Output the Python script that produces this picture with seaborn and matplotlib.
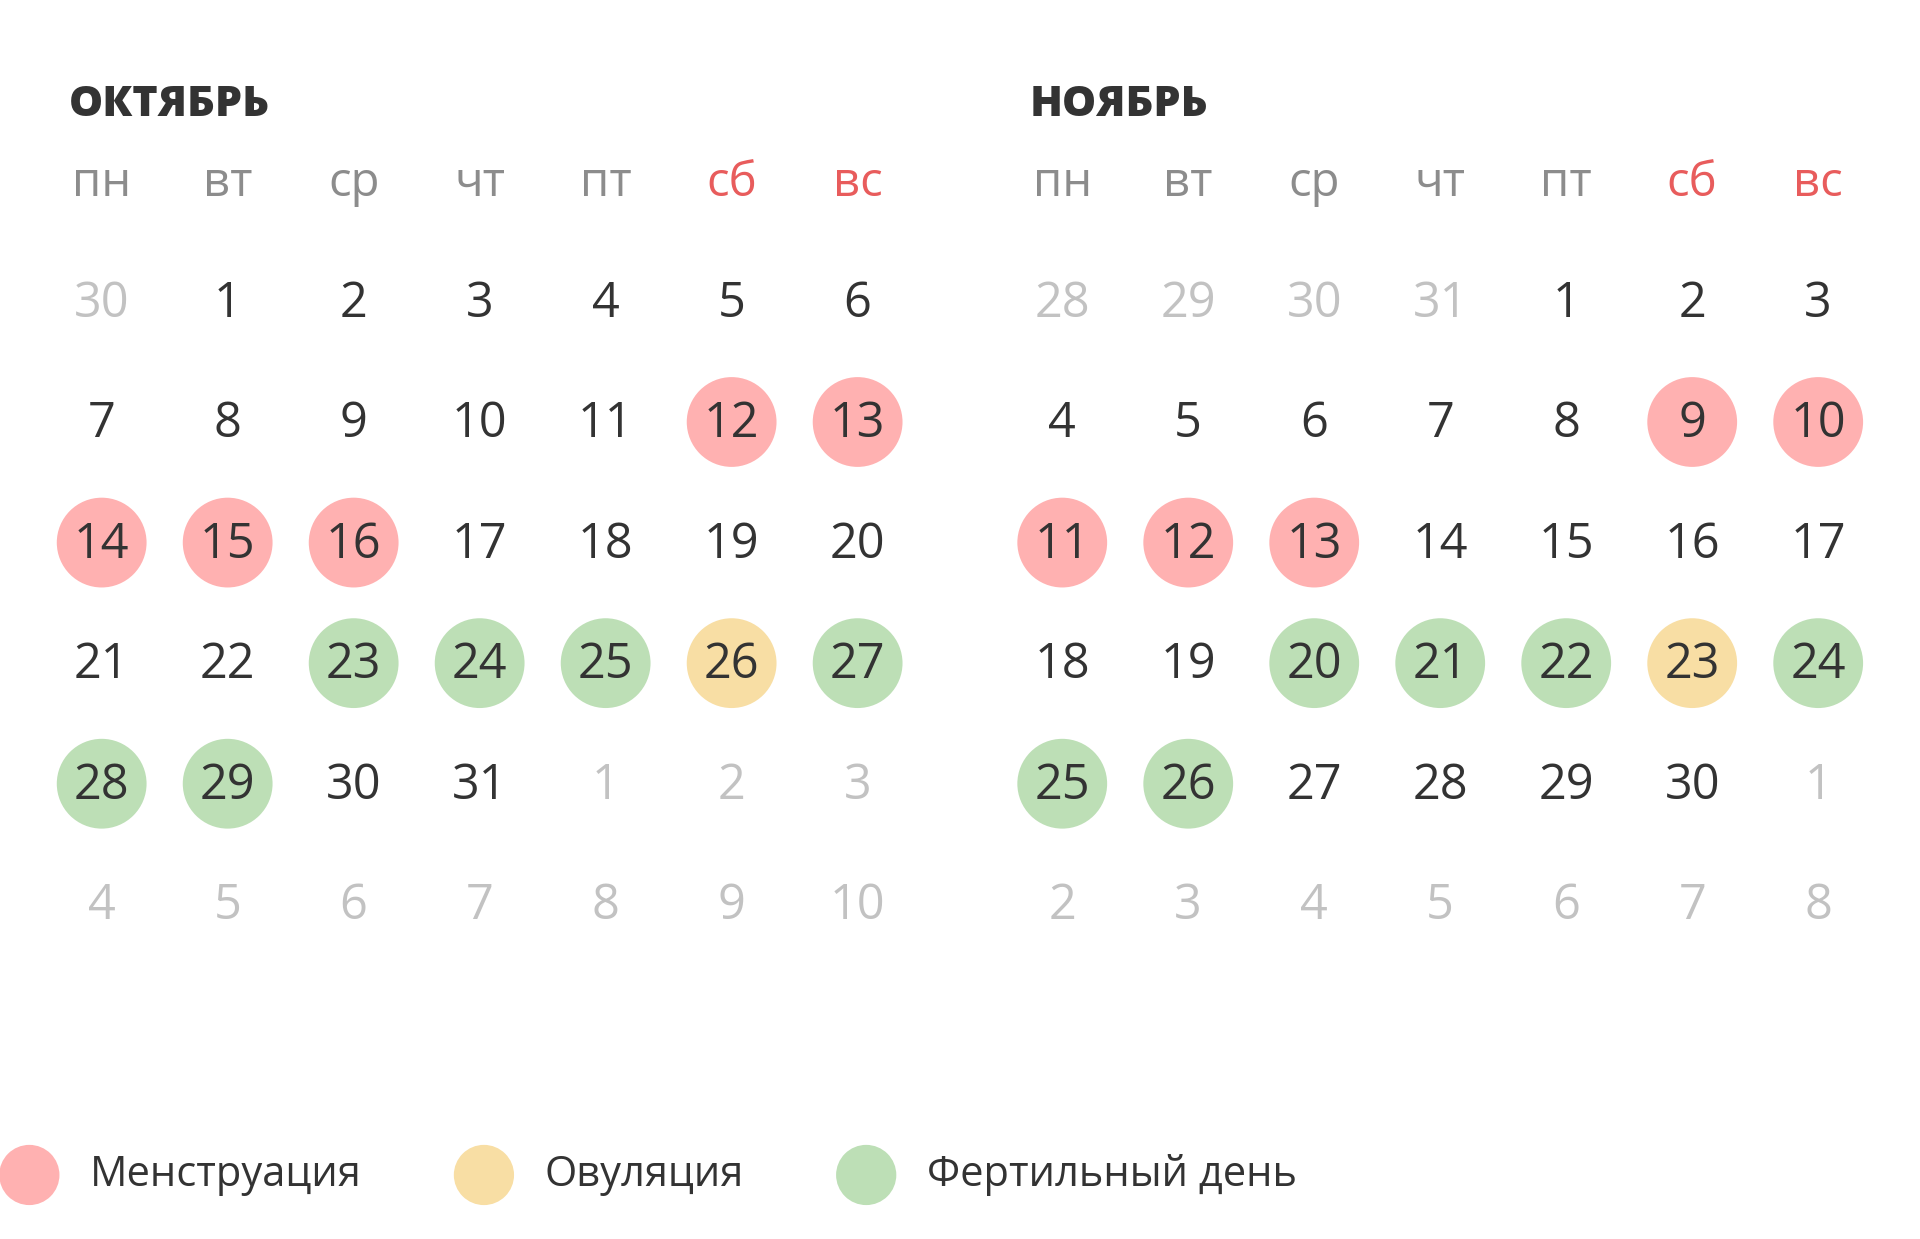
import matplotlib
matplotlib.use("Agg")
import matplotlib.pyplot as plt
import seaborn as sns
import pandas as pd

# calendar grids (Mon..Sun rows), Oct and Nov 2019
oct_grid = [
    [30, 1, 2, 3, 4, 5, 6],
    [7, 8, 9, 10, 11, 12, 13],
    [14, 15, 16, 17, 18, 19, 20],
    [21, 22, 23, 24, 25, 26, 27],
    [28, 29, 30, 31, 1, 2, 3],
    [4, 5, 6, 7, 8, 9, 10],
]
nov_grid = [
    [28, 29, 30, 31, 1, 2, 3],
    [4, 5, 6, 7, 8, 9, 10],
    [11, 12, 13, 14, 15, 16, 17],
    [18, 19, 20, 21, 22, 23, 24],
    [25, 26, 27, 28, 29, 30, 1],
    [2, 3, 4, 5, 6, 7, 8],
]
month_names = ["ОКТЯБРЬ", "НОЯБРЬ"]
weekdays = ["пн", "вт", "ср", "чт", "пт", "сб", "вс"]

oct_mens = [12, 13, 14, 15, 16]
oct_ovul = [26]
oct_fert = [23, 24, 25, 27, 28, 29]
nov_mens = [9, 10, 11, 12, 13]
nov_ovul = [23]
nov_fert = [20, 21, 22, 24, 25, 26]

legend_labels = ["Менструация", "Овуляция", "Фертильный день"]
status_colors = {"Менструация": "#ffb1b1", "Овуляция": "#f8dea4", "Фертильный день": "#bddfb6"}

sns.set_style("white")
plt.rcParams['font.family'] = ['Open Sans', 'DejaVu Sans']

month_offset = [0, 7.624]
rows = []
for m, (grid, mens, ovul, fert) in enumerate([(oct_grid, oct_mens, oct_ovul, oct_fert),
                                              (nov_grid, nov_mens, nov_ovul, nov_fert)]):
    for r, week in enumerate(grid):
        for c, d in enumerate(week):
            in_month = not ((r == 0 and d > 7) or (r >= 4 and d < 15))
            status = None
            if in_month:
                if d in mens:
                    status = "Менструация"
                elif d in ovul:
                    status = "Овуляция"
                elif d in fert:
                    status = "Фертильный день"
            rows.append(dict(month=m, x=month_offset[m] + c, y=r, day=d,
                             in_month=in_month, status=status))
df = pd.DataFrame(rows)

fig = plt.figure(figsize=(19.2, 12.39), dpi=100)
ax = fig.add_axes([0, 0, 1, 1])

marked = df[df["status"].notna()]
sns.scatterplot(data=marked, x="x", y="y", hue="status", palette=status_colors,
                s=4180, linewidth=0, legend=False, ax=ax, zorder=1)

for _, row in df.iterrows():
    color = "#333333" if row["in_month"] else "#c2c2c2"
    ax.text(row["x"], row["y"] + 0.02, str(row["day"]), ha="center", va="center",
            fontsize=35, color=color, zorder=3)

for m in range(2):
    ax.text(month_offset[m] - 0.26, -1.633, month_names[m], ha="left", va="center",
            fontsize=31, fontweight="heavy", color="#333333")
    for c, wd in enumerate(weekdays):
        color = "#e85c5c" if c >= 5 else "#8c8c8c"
        ax.text(month_offset[m] + c, -0.98, wd, ha="center", va="center",
                fontsize=34, color=color)

# legend
leg_x = [-0.574, 3.034, 6.068]
leg_df = pd.DataFrame({"x": leg_x, "y": [7.245] * 3, "status": legend_labels})
sns.scatterplot(data=leg_df, x="x", y="y", hue="status", palette=status_colors,
                s=1880, linewidth=0, legend=False, ax=ax)
for lx, lab in zip(leg_x, legend_labels):
    ax.text(lx + 0.48, 7.245, lab, ha="left", va="center", fontsize=30, color="#333333")

ax.set_xlim(-0.807, 14.432)
ax.set_ylim(7.776, -2.5)
ax.axis("off")

fig.savefig("out.png", dpi=100, facecolor="white")
